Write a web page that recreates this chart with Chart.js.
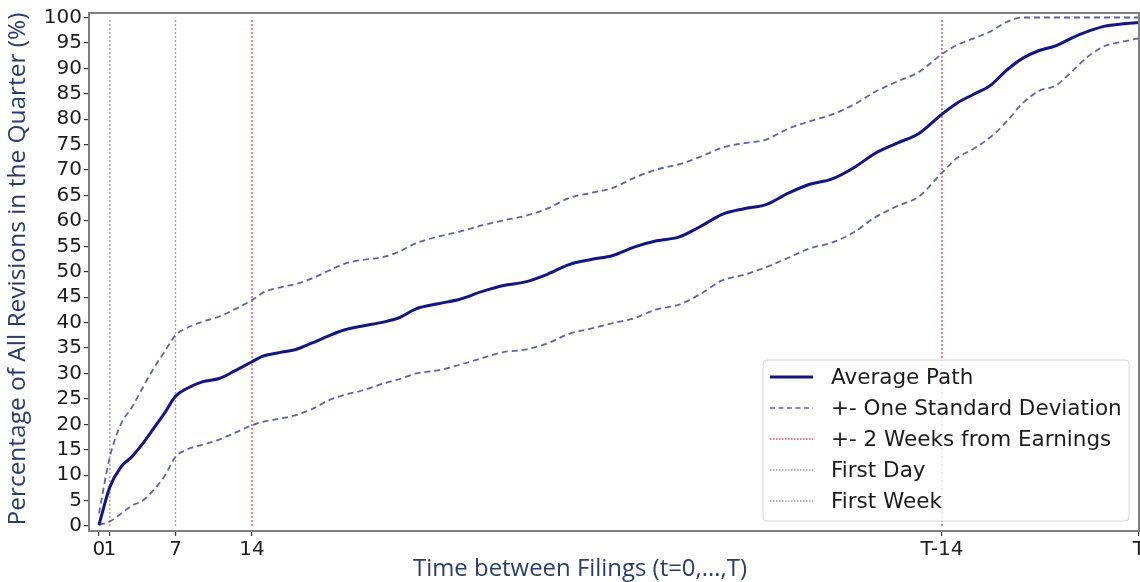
<!DOCTYPE html>
<html>
<head>
<meta charset="utf-8">
<script src="https://cdn.jsdelivr.net/npm/chart.js@4/dist/chart.umd.min.js"></script>
<style>
  html, body { margin: 0; padding: 0; background: #fff; }
  #wrap { width: 1140px; height: 582px; }
</style>
</head>
<body>
<div id="wrap"><canvas id="c" width="1140" height="582"></canvas></div>
<script>
// ---- data ----
const days = [0, 1, 2, 3, 4, 5, 6, 7, 8, 9.5, 11, 12.5, 14, 15, 16.5, 18, 19.5, 21, 22.5, 24, 26, 27.5, 29, 31, 33, 35, 37, 39, 41, 43, 45, 47, 49, 51, 53, 55, 57, 59, 61, 63, 65, 67, 69, 71, 73, 75, 77.1, 78.5, 80, 81.5, 83, 84.5, 86, 87.5, 89, 90.5, 92, 93.5, 95.1];
const averagePath = [0.2, 7.7, 11.6, 13.6, 16.2, 19.2, 22.2, 25.5, 27.0, 28.4, 29.0, 30.6, 32.3, 33.4, 34.1, 34.7, 36.0, 37.4, 38.6, 39.3, 40.1, 41.0, 42.7, 43.7, 44.6, 46.1, 47.3, 48.0, 49.5, 51.4, 52.4, 53.2, 54.9, 56.1, 56.8, 58.9, 61.3, 62.4, 63.2, 65.4, 67.2, 68.2, 70.4, 73.3, 75.3, 77.2, 81.0, 83.2, 84.9, 86.6, 89.6, 92.0, 93.5, 94.4, 96.0, 97.3, 98.3, 98.7, 99.0];
const upperStd = [2.5, 13.6, 20.0, 23.3, 27.2, 31.0, 34.3, 37.5, 38.9, 40.2, 41.2, 42.7, 44.4, 45.9, 46.9, 47.6, 48.7, 50.2, 51.6, 52.3, 52.9, 54.0, 55.6, 56.9, 57.9, 59.1, 60.1, 61.0, 62.4, 64.5, 65.5, 66.5, 68.5, 70.1, 71.1, 72.6, 74.4, 75.3, 76.0, 78.1, 79.6, 80.9, 82.8, 85.4, 87.4, 89.3, 92.8, 94.6, 95.9, 97.2, 99.1, 100, 100, 100, 100, 100, 100, 100, 100];
const lowerStd = [0.2, 0.9, 2.4, 4.0, 5.0, 7.1, 9.8, 13.6, 15.0, 16.0, 17.0, 18.4, 19.8, 20.5, 21.1, 21.8, 23.0, 24.7, 25.8, 26.6, 28.0, 28.9, 30.0, 30.6, 31.7, 33.0, 34.2, 34.7, 35.9, 37.8, 38.8, 39.9, 40.9, 42.6, 43.5, 45.6, 48.3, 49.4, 50.9, 52.7, 54.6, 55.7, 57.7, 60.7, 62.9, 64.8, 69.5, 72.4, 74.2, 76.4, 79.5, 83.2, 85.6, 86.6, 89.4, 92.4, 94.4, 95.2, 95.9];
const firstDayMarks = [1];
const firstWeekMarks = [7];
const earningsMarks = [14, 77.1];
const xTickValues = [0, 1, 7, 14, 77.1, 95.1];
const xTickLabels = ['0', '1', '7', '14', 'T-14', 'T'];
const yTickValues = [0, 5, 10, 15, 20, 25, 30, 35, 40, 45, 50, 55, 60, 65, 70, 75, 80, 85, 90, 95, 100];
const seriesNames = ['Average Path', '+- One Standard Deviation', '+- 2 Weeks from Earnings', 'First Day', 'First Week'];
const xTitle = 'Time between Filings (t=0,...,T)';
const yTitle = 'Percentage of All Revisions in the Quarter (%)';

// ---- helpers ----
const pts = (ys) => days.map((d, i) => ({ x: d, y: ys[i] }));
const vlines = (marks) => marks.flatMap(m => [{ x: m, y: 0 }, { x: m, y: 100 }, { x: m, y: null }]);

const NAVY = '#13138c';
const STD = '#6060ae';
const RED = '#e2514f';
const GRAY = '#a2a2a2';

const datasets = [
  { label: seriesNames[0], data: pts(averagePath), borderColor: NAVY, borderWidth: 3, pointRadius: 0, tension: 0.4, cubicInterpolationMode: 'monotone', legendStyle: { color: NAVY, width: 3, dash: [] } },
  { label: seriesNames[1], data: pts(upperStd), borderColor: STD, borderWidth: 1.8, borderDash: [6, 4], pointRadius: 0, tension: 0.4, cubicInterpolationMode: 'monotone', legendStyle: { color: STD, width: 1.3, dash: [5, 3.5] } },
  { label: seriesNames[1], data: pts(lowerStd), borderColor: STD, borderWidth: 1.8, borderDash: [6, 4], pointRadius: 0, tension: 0.4, cubicInterpolationMode: 'monotone', legendSkip: true },
  { label: seriesNames[2], data: vlines(earningsMarks), borderColor: RED, borderWidth: 1.4, borderDash: [2, 2], pointRadius: 0, spanGaps: false, legendStyle: { color: RED, width: 1.3, dash: [1.5, 1.5] } },
  { label: seriesNames[3], data: vlines(firstDayMarks), borderColor: GRAY, borderWidth: 1.4, borderDash: [2, 2], pointRadius: 0, spanGaps: false, legendStyle: { color: GRAY, width: 1.3, dash: [1.5, 1.5] } },
  { label: seriesNames[4], data: vlines(firstWeekMarks), borderColor: GRAY, borderWidth: 1.4, borderDash: [2, 2], pointRadius: 0, spanGaps: false, legendStyle: { color: GRAY, width: 1.3, dash: [1.5, 1.5] } }
];

const framePlugin = {
  id: 'frame',
  afterDraw(chart) {
    const { ctx, chartArea: a } = chart;
    ctx.save();
    ctx.strokeStyle = '#7f7f7f';
    ctx.lineWidth = 2;
    ctx.strokeRect(a.left, a.top, a.right - a.left, a.bottom - a.top);
    ctx.restore();
  }
};

const legendPlugin = {
  id: 'insideLegend',
  afterDraw(chart) {
    const { ctx, chartArea: a } = chart;
    const w = 366, h = 161, r = 4;
    const x = a.right - 10 - w, y = a.bottom - 10 - h;
    ctx.save();
    ctx.beginPath();
    ctx.moveTo(x + r, y);
    ctx.lineTo(x + w - r, y); ctx.quadraticCurveTo(x + w, y, x + w, y + r);
    ctx.lineTo(x + w, y + h - r); ctx.quadraticCurveTo(x + w, y + h, x + w - r, y + h);
    ctx.lineTo(x + r, y + h); ctx.quadraticCurveTo(x, y + h, x, y + h - r);
    ctx.lineTo(x, y + r); ctx.quadraticCurveTo(x, y, x + r, y);
    ctx.closePath();
    ctx.fillStyle = 'rgba(255,255,255,0.85)';
    ctx.fill();
    ctx.strokeStyle = '#d6d6d6';
    ctx.lineWidth = 1;
    ctx.stroke();
    let row = 0;
    chart.data.datasets.forEach(ds => {
      if (ds.legendSkip) return;
      const cy = y + 17 + row * 31;
      const st = ds.legendStyle;
      ctx.beginPath();
      ctx.setLineDash(st.dash);
      ctx.strokeStyle = st.color;
      ctx.lineWidth = st.width;
      ctx.moveTo(x + 7, cy);
      ctx.lineTo(x + 50, cy);
      ctx.stroke();
      ctx.setLineDash([]);
      ctx.fillStyle = '#1c1c1c';
      ctx.font = '21.5px "DejaVu Sans"';
      ctx.textBaseline = 'middle';
      ctx.textAlign = 'left';
      ctx.fillText(ds.label, x + 68, cy + 1);
      row++;
    });
    ctx.restore();
  }
};

const titlePlugin = {
  id: 'axisTitles',
  afterDraw(chart) {
    const { ctx } = chart;
    ctx.save();
    ctx.fillStyle = '#293c6c';
    ctx.font = '23px "Open Sans"';
    ctx.textAlign = 'center';
    ctx.textBaseline = 'middle';
    let mw = ctx.measureText(xTitle).width;
    ctx.save();
    ctx.translate(580, 569);
    ctx.scale(334 / mw, 1);
    ctx.fillText(xTitle, 0, 0);
    ctx.restore();
    mw = ctx.measureText(yTitle).width;
    ctx.save();
    ctx.translate(18, 269);
    ctx.rotate(-Math.PI / 2);
    ctx.scale(513 / mw, 1);
    ctx.fillText(yTitle, 0, 0);
    ctx.restore();
    ctx.restore();
  }
};

new Chart(document.getElementById('c'), {
  type: 'line',
  data: { datasets },
  options: {
    responsive: false,
    animation: false,
    devicePixelRatio: 1,
    layout: { padding: { top: 13, right: 1, left: 0, bottom: 0 } },
    plugins: { legend: { display: false }, tooltip: { enabled: false } },
    scales: {
      x: {
        type: 'linear',
        min: -0.91,
        max: 95.12,
        afterBuildTicks: s => { s.ticks = xTickValues.map(v => ({ value: v })); },
        afterFit: s => { s.height = 51; s.paddingLeft = 0; s.paddingRight = 0; },
        ticks: {
          autoSkip: false, maxRotation: 0, minRotation: 0, padding: 2,
          color: '#1c1c1c', font: { family: 'DejaVu Sans', size: 20 },
          callback: (v, i) => xTickLabels[i]
        },
        grid: { display: true, drawOnChartArea: false, drawTicks: true, tickLength: 5, color: '#333', lineWidth: 1.2 },
        border: { display: false }
      },
      y: {
        type: 'linear',
        min: -0.98,
        max: 100.88,
        afterBuildTicks: s => { s.ticks = yTickValues.map(v => ({ value: v })); },
        afterFit: s => { s.width = 89; s.paddingTop = 0; s.paddingBottom = 0; },
        ticks: {
          autoSkip: false, padding: 2,
          color: '#1c1c1c', font: { family: 'DejaVu Sans', size: 20 },
          callback: v => String(v)
        },
        grid: { display: true, drawOnChartArea: false, drawTicks: true, tickLength: 5, color: '#333', lineWidth: 1.2 },
        border: { display: false }
      }
    }
  },
  plugins: [framePlugin, legendPlugin, titlePlugin]
});
</script>
</body>
</html>
